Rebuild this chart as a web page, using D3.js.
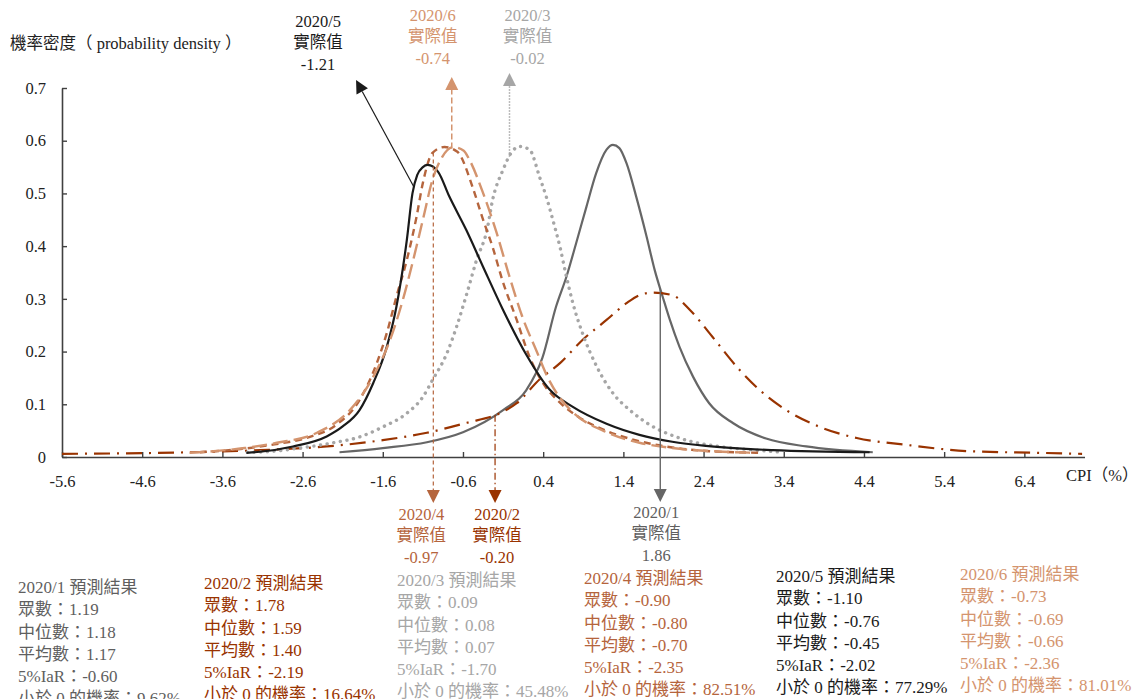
<!DOCTYPE html>
<html>
<head>
<meta charset="utf-8">
<script src="https://cdn.jsdelivr.net/npm/d3@7"></script>
<style>
  body { margin: 0; background: #fff; }
  svg { display: block; }
  text { font-family: "Liberation Serif", "Times New Roman", "Noto Sans CJK TC", serif; }
</style>
</head>
<body>
<div id="chart"></div>
<script>
/* ── Data ────────────────────────────────────────────────── */
const months = ["2020/1", "2020/2", "2020/3", "2020/4", "2020/5", "2020/6"];

// density curves: [CPI %, probability density]
const dens2020_1 = [[-2.14,0.009],[-1.60,0.017],[-1.05,0.028],[-0.60,0.047],[-0.10,0.089],[0.19,0.127],[0.39,0.188],[0.56,0.285],[0.69,0.342],[0.81,0.405],[0.94,0.475],[1.06,0.538],[1.19,0.583],[1.27,0.592],[1.35,0.586],[1.44,0.557],[1.56,0.494],[1.69,0.418],[1.79,0.355],[1.89,0.304],[1.98,0.260],[2.10,0.209],[2.27,0.152],[2.47,0.102],[2.77,0.064],[3.18,0.035],[3.68,0.020],[4.51,0.009]];
const dens2020_2 = [[-5.60,0.006],[-4.79,0.007],[-3.97,0.009],[-3.13,0.013],[-2.30,0.020],[-1.60,0.032],[-1.05,0.046],[-0.55,0.065],[-0.14,0.083],[0.07,0.102],[0.36,0.148],[0.61,0.178],[0.89,0.222],[1.19,0.260],[1.44,0.292],[1.60,0.307],[1.77,0.312],[2.01,0.307],[2.23,0.279],[2.51,0.228],[2.85,0.165],[3.10,0.127],[3.43,0.089],[3.85,0.057],[4.31,0.036],[4.93,0.023],[5.71,0.011],[6.55,0.008],[7.12,0.006]];
const dens2020_3 = [[-3.29,0.009],[-3.05,0.010],[-2.63,0.017],[-2.22,0.027],[-1.89,0.038],[-1.60,0.057],[-1.30,0.083],[-1.10,0.114],[-0.98,0.146],[-0.80,0.197],[-0.68,0.247],[-0.55,0.311],[-0.43,0.374],[-0.30,0.431],[-0.23,0.488],[-0.10,0.545],[0.01,0.579],[0.11,0.589],[0.23,0.583],[0.36,0.529],[0.44,0.493],[0.52,0.450],[0.61,0.398],[0.69,0.342],[0.77,0.292],[0.89,0.235],[1.07,0.171],[1.27,0.121],[1.48,0.089],[1.73,0.061],[2.10,0.036],[2.64,0.019],[3.06,0.013],[3.38,0.009]];
const dens2020_4 = [[-3.88,0.009],[-3.38,0.015],[-2.95,0.024],[-2.51,0.038],[-2.17,0.062],[-1.89,0.108],[-1.67,0.180],[-1.55,0.235],[-1.43,0.304],[-1.30,0.374],[-1.18,0.455],[-1.10,0.520],[-0.98,0.577],[-0.83,0.588],[-0.67,0.579],[-0.48,0.512],[-0.36,0.455],[-0.23,0.398],[-0.11,0.336],[0.07,0.260],[0.23,0.190],[0.39,0.142],[0.61,0.103],[0.85,0.075],[1.18,0.050],[1.60,0.030],[2.01,0.018],[2.47,0.011],[3.10,0.008]];
const dens2020_5 = [[-3.30,0.008],[-3.13,0.010],[-2.72,0.020],[-2.30,0.039],[-2.10,0.058],[-1.89,0.089],[-1.72,0.140],[-1.55,0.209],[-1.43,0.285],[-1.30,0.412],[-1.23,0.500],[-1.17,0.535],[-1.10,0.550],[-1.04,0.554],[-0.91,0.541],[-0.77,0.494],[-0.56,0.431],[-0.35,0.361],[-0.10,0.279],[0.19,0.194],[0.48,0.128],[0.77,0.095],[1.19,0.063],[1.60,0.042],[2.01,0.029],[2.43,0.021],[3.26,0.013],[4.47,0.009]];
const dens2020_6 = [[-4.01,0.008],[-3.63,0.012],[-3.32,0.017],[-2.92,0.027],[-2.42,0.046],[-2.01,0.089],[-1.72,0.152],[-1.51,0.222],[-1.35,0.298],[-1.23,0.368],[-1.10,0.450],[-0.98,0.526],[-0.86,0.569],[-0.72,0.588],[-0.59,0.581],[-0.52,0.564],[-0.35,0.501],[-0.18,0.425],[-0.02,0.342],[0.14,0.266],[0.32,0.200],[0.46,0.150],[0.62,0.110],[0.77,0.085],[1.19,0.047],[1.60,0.027],[2.01,0.017],[2.64,0.010],[3.01,0.008]];

// actual CPI values
const actualValues = [1.86, -0.20, -0.02, -0.97, -1.21, -0.74];

// forecast statistics
const modes = [1.19, 1.78, 0.09, -0.90, -1.10, -0.73];
const medians = [1.18, 1.59, 0.08, -0.80, -0.76, -0.69];
const means = [1.17, 1.40, 0.07, -0.70, -0.45, -0.66];
const iar5 = [-0.60, -2.19, -1.70, -2.35, -2.02, -2.36];
const probBelow0 = [9.62, 16.64, 45.48, 82.51, 77.29, 81.01];

// axis ticks
const xTicks = [-5.6, -4.6, -3.6, -2.6, -1.6, -0.6, 0.4, 1.4, 2.4, 3.4, 4.4, 5.4, 6.4];
const yTicks = [0, 0.1, 0.2, 0.3, 0.4, 0.5, 0.6, 0.7];

const curves = [dens2020_1, dens2020_2, dens2020_3, dens2020_4, dens2020_5, dens2020_6];

/* ── Styles ─────────────────────────────────────────────── */
const lineStyle = [
  { color: "#666666", width: 2.2, dash: null,        cap: "butt" },
  { color: "#993300", width: 2.2, dash: "16,7,2,7",  cap: "butt" },
  { color: "#a6a6a6", width: 3.4, dash: "0.1,6.6",   cap: "round" },
  { color: "#b5653d", width: 2.4, dash: "7,5",       cap: "butt" },
  { color: "#1a1a1a", width: 2.2, dash: null,        cap: "butt" },
  { color: "#d4946e", width: 2.4, dash: "15,6",      cap: "butt" }
];
const textColor = ["#5f5f5f", "#993300", "#a6a6a6", "#b5643c", "#1a1a1a", "#d4946e"];

// where each "實際值" annotation goes
const annoLayout = [
  { side: "bottom", dx: -4,  lineY: 512, dash: null,        width: 1.4, tip: 502 },
  { side: "bottom", dx: 2,   lineY: 514, dash: "7,3,1.5,3", width: 1.2, tip: 503 },
  { side: "top",    dx: 18,  lineY: 15,  dash: "1.5,1.5",   width: 1.5, tip: 73 },
  { side: "bottom", dx: -12, lineY: 514, dash: "4,3",       width: 1.2, tip: 503 },
  { side: "diag",   dx: -96, lineY: 21,  dash: null,        width: 1.2, tip: 80 },
  { side: "top",    dx: -19, lineY: 15,  dash: "6,3",       width: 1.5, tip: 77 }
];

/* ── SVG & scales ───────────────────────────────────────── */
const W = 1137, H = 699;
const svg = d3.select("#chart").append("svg")
  .attr("width", W)
  .attr("height", H);

const x = d3.scaleLinear().domain([-5.6, 7.15]).range([62, 1084.5]);
const y = d3.scaleLinear().domain([0, 0.7]).range([457, 88]);

const AXIS = "#404040";
const FS = "16.5px";

// x axis (ticks point up into the plot)
svg.append("g")
  .attr("transform", `translate(0,${y(0)})`)
  .call(d3.axisBottom(x).tickValues(xTicks).tickFormat(d => d.toFixed(1))
    .tickSizeInner(-5).tickSizeOuter(0).tickPadding(18))
  .call(g => g.select(".domain").attr("stroke", AXIS).attr("stroke-width", 1.6))
  .call(g => g.selectAll(".tick line").attr("stroke", AXIS).attr("stroke-width", 1.4))
  .call(g => g.selectAll(".tick text").attr("fill", "#222").style("font-size", FS)
    .style("font-family", '"Liberation Serif", serif'));

// y axis (ticks point right)
svg.append("g")
  .attr("transform", `translate(${x(-5.6)},0)`)
  .call(d3.axisLeft(y).tickValues(yTicks).tickFormat(d => d === 0 ? "0" : d.toFixed(1))
    .tickSizeInner(-5).tickSizeOuter(0).tickPadding(16))
  .call(g => g.select(".domain").attr("stroke", AXIS).attr("stroke-width", 1.6))
  .call(g => g.selectAll(".tick line").attr("stroke", AXIS).attr("stroke-width", 1.4))
  .call(g => g.selectAll(".tick text").attr("fill", "#222").style("font-size", FS)
    .style("font-family", '"Liberation Serif", serif'));

svg.append("text")
  .attr("x", 10).attr("y", 49)
  .attr("fill", "#222").style("font-size", FS)
  .text("機率密度（ probability density ）");

svg.append("text")
  .attr("x", 1066).attr("y", 481)
  .attr("fill", "#222").style("font-size", FS)
  .text("CPI（%）");

/* ── Density curves ─────────────────────────────────────── */
const line = d3.line()
  .x(d => x(d[0]))
  .y(d => y(d[1]))
  .curve(d3.curveMonotoneX);

svg.append("g").selectAll("path")
  .data(curves)
  .join("path")
  .attr("d", line)
  .attr("fill", "none")
  .attr("stroke", (d, i) => lineStyle[i].color)
  .attr("stroke-width", (d, i) => lineStyle[i].width)
  .attr("stroke-dasharray", (d, i) => lineStyle[i].dash)
  .attr("stroke-linecap", (d, i) => lineStyle[i].cap);

/* ── Actual value arrows ────────────────────────────────── */
function densAt(pts, v) {
  for (let i = 0; i < pts.length - 1; i++) {
    const a = pts[i], b = pts[i + 1];
    if (v >= a[0] && v <= b[0]) return a[1] + (b[1] - a[1]) * (v - a[0]) / (b[0] - a[0]);
  }
  return 0;
}

const anno = svg.append("g");
actualValues.forEach((v, i) => {
  const L = annoLayout[i];
  const col = lineStyle[i].color;
  const ax = x(v);
  const ay = y(densAt(curves[i], v));
  const hl = 13, hw = 6.5; // arrow head length / half width

  if (L.side === "bottom") {
    anno.append("line")
      .attr("x1", ax).attr("y1", ay).attr("x2", ax).attr("y2", L.tip - hl)
      .attr("stroke", col).attr("stroke-width", L.width)
      .attr("stroke-dasharray", L.dash);
    anno.append("path")
      .attr("d", `M${ax - hw},${L.tip - hl}L${ax + hw},${L.tip - hl}L${ax},${L.tip}Z`)
      .attr("fill", col);
  } else if (L.side === "top") {
    anno.append("line")
      .attr("x1", ax).attr("y1", ay).attr("x2", ax).attr("y2", L.tip + hl)
      .attr("stroke", col).attr("stroke-width", L.width)
      .attr("stroke-dasharray", L.dash);
    anno.append("path")
      .attr("d", `M${ax - hw},${L.tip + hl}L${ax + hw},${L.tip + hl}L${ax},${L.tip}Z`)
      .attr("fill", col);
  } else {
    // diagonal arrow for 2020/5
    const tx = ax - 58, ty = L.tip;
    const ang = Math.atan2(ty - ay, tx - ax);
    const bx = tx - hl * Math.cos(ang), by = ty - hl * Math.sin(ang);
    const px = -Math.sin(ang) * hw, py = Math.cos(ang) * hw;
    anno.append("line")
      .attr("x1", ax).attr("y1", ay).attr("x2", bx).attr("y2", by)
      .attr("stroke", col).attr("stroke-width", L.width);
    anno.append("path")
      .attr("d", `M${bx + px},${by + py}L${bx - px},${by - py}L${tx},${ty}Z`)
      .attr("fill", col);
  }

  const lines = [months[i], "實際值", v.toFixed(2)];
  anno.append("g").selectAll("text")
    .data(lines)
    .join("text")
    .attr("x", ax + L.dx)
    .attr("y", (d, k) => L.lineY + k * 21.5)
    .attr("dy", "0.35em")
    .attr("text-anchor", "middle")
    .attr("fill", textColor[i])
    .style("font-size", FS)
    .text(d => d);
});

/* ── Forecast summary blocks ────────────────────────────── */
const colX = [18, 204, 397, 584, 776, 960];
const colY = [587, 583, 580, 578, 576, 574];

months.forEach((m, i) => {
  const rows = [
    `${m} 預測結果`,
    `眾數：${modes[i].toFixed(2)}`,
    `中位數：${medians[i].toFixed(2)}`,
    `平均數：${means[i].toFixed(2)}`,
    `5%IaR：${iar5[i].toFixed(2)}`,
    `小於 0 的機率：${probBelow0[i].toFixed(2)}%`
  ];
  svg.append("g").selectAll("text")
    .data(rows)
    .join("text")
    .attr("x", colX[i])
    .attr("y", (d, k) => colY[i] + k * 22.3)
    .attr("dy", "0.35em")
    .attr("fill", textColor[i])
    .style("font-size", "17px")
    .text(d => d);
});
</script>
</body>
</html>
